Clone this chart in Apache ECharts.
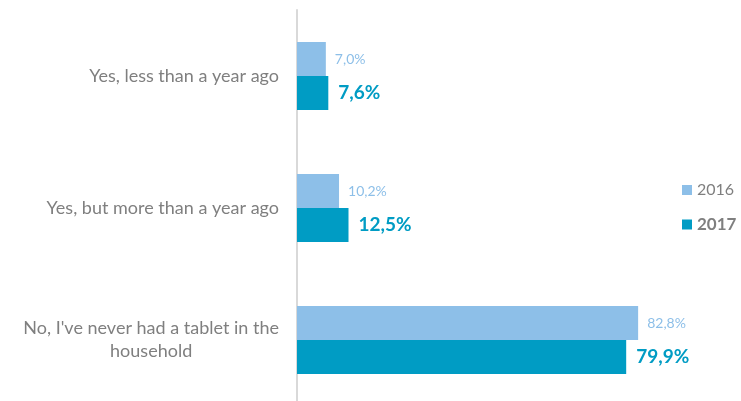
<!DOCTYPE html>
<html><head><meta charset="utf-8">
<script src="https://cdn.jsdelivr.net/npm/echarts@6/dist/echarts.min.js"></script>
<style>html,body{margin:0;padding:0;background:#fff}#c{width:741px;height:401px}</style>
</head><body><div id="c"></div>
<script>
const categories = ["Yes, less than a year ago", "Yes, but more than a year ago", "No, I've never had a tablet in the\nhousehold"];
const seriesNames = ["2016", "2017"];
const values2016 = [7.0, 10.2, 82.8];
const values2017 = [7.6, 12.5, 79.9];

const C16 = '#8DBFE8', C17 = '#009CC4';
const FONT = 'Lato, "Open Sans", sans-serif';
const fmt = p => p.value.toFixed(1).replace('.', ',') + '%';

const chart = echarts.init(document.getElementById('c'));
chart.setOption({
  animation: false,
  textStyle: { fontFamily: FONT },
  grid: { left: 297, top: 10, width: 412, height: 396, containLabel: false, outerBoundsMode: 'none' },
  legend: {
    orient: 'vertical', left: 682, top: 182, padding: 0, itemWidth: 10, itemHeight: 10, itemGap: 18,
    icon: 'rect',
    textStyle: { fontFamily: FONT, fontSize: 16, color: '#7F7F7F' },
    data: [
      { name: seriesNames[0], textStyle: { fontWeight: 'normal', fontSize: 16 } },
      { name: seriesNames[1], textStyle: { fontWeight: 'bold', fontSize: 17 } }
    ]
  },
  xAxis: { type: 'value', min: 0, max: 100, show: false },
  yAxis: {
    type: 'category', data: categories, inverse: true,
    axisLine: { show: true, lineStyle: { color: '#D9D9D9', width: 2 } },
    axisTick: { show: false },
    axisLabel: {
      margin: 18, fontSize: 18, color: '#7F7F7F', fontFamily: FONT, lineHeight: 23,
      formatter: v => v.split('\n').map(l => '{c|' + l + '}').join('\n'),
      rich: { c: { align: 'center', fontSize: 18, color: '#7F7F7F', fontFamily: FONT, lineHeight: 23 } }
    }
  },
  series: [
    { name: seriesNames[0], type: 'bar', data: values2016, barWidth: 34, barGap: '0%',
      itemStyle: { color: C16 },
      label: { show: true, position: 'right', distance: 9, formatter: fmt, color: C16, fontSize: 14, fontFamily: FONT } },
    { name: seriesNames[1], type: 'bar', data: values2017, barWidth: 34, barGap: '0%',
      itemStyle: { color: C17 },
      label: { show: true, position: 'right', distance: 10, formatter: fmt, color: C17, fontSize: 19, fontWeight: 'bold', fontFamily: FONT } }
  ]
});
</script></body></html>
